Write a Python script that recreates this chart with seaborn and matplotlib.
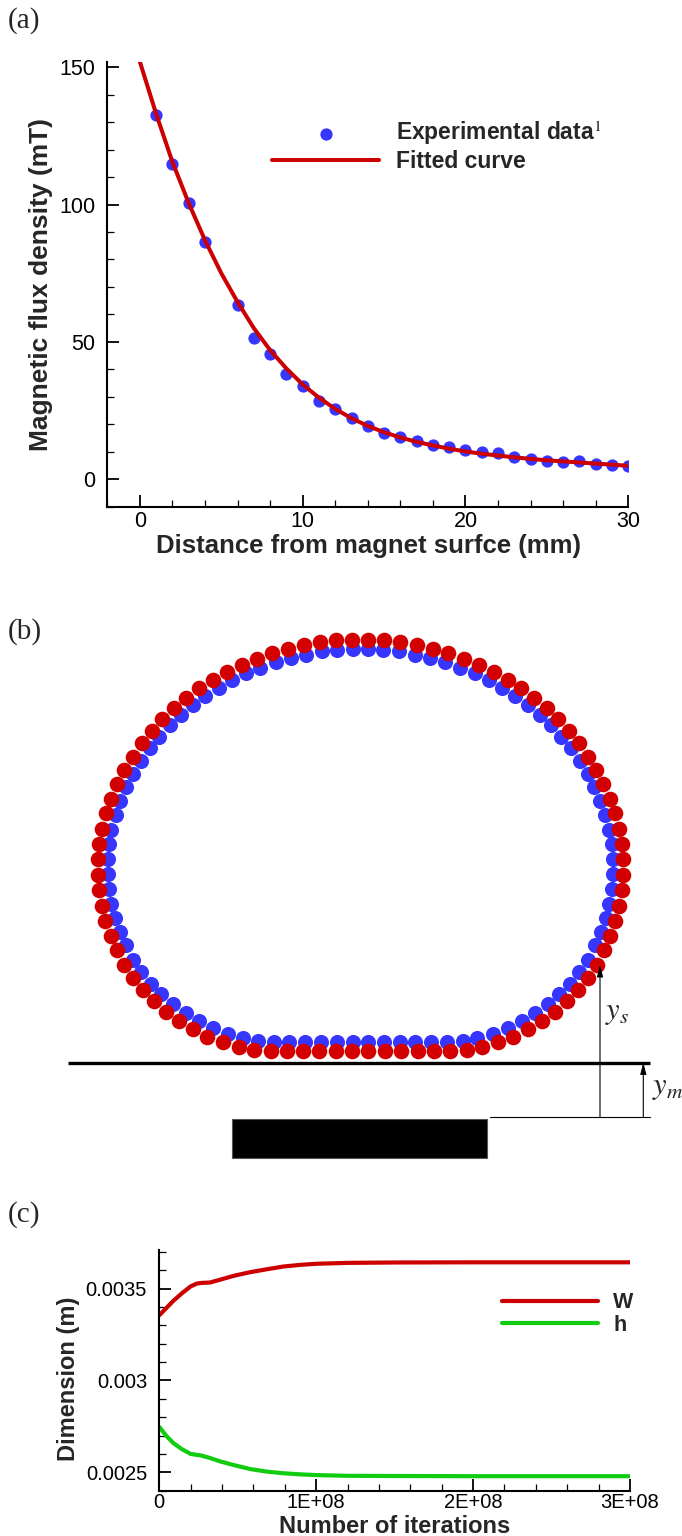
import matplotlib
matplotlib.use('Agg')
import matplotlib.pyplot as plt
import seaborn as sns
from matplotlib.ticker import MultipleLocator, FixedLocator, FixedFormatter
from matplotlib.patches import Rectangle

# ---------------- Panel (a) data ----------------
exp_distance_mm = [1, 2, 3, 4, 6, 7, 8, 9, 10, 11, 12, 13, 14, 15, 16, 17, 18, 19, 20,
                   21, 22, 23, 24, 25, 26, 27, 28, 29, 30]
exp_flux_mT = [132.7, 114.6, 100.4, 86.5, 63.4, 51.5, 45.5, 38.2, 33.8, 28.6, 25.6, 22.4,
               19.3, 17.0, 15.5, 14.0, 12.5, 11.6, 10.5, 10.0, 9.4, 8.1, 7.4, 6.8, 6.1,
               6.5, 5.5, 5.2, 4.7]
fit_distance_mm = [0, 1, 2, 3, 4, 5, 6, 7, 8, 9, 10, 11, 12, 13, 14, 15, 16, 17, 18, 19,
                   20, 21, 22, 23, 24, 25, 26, 27, 28, 29, 30]
fit_flux_mT = [152, 133, 115.5, 100.5, 87, 75, 64.5, 55, 47, 40.3, 34.5, 29.7, 25.6, 22.2,
               19.4, 17.1, 15.2, 13.6, 12.3, 11.1, 10.1, 9.3, 8.6, 8.0, 7.4, 6.9, 6.5,
               6.1, 5.7, 5.3, 4.9]
a_xticks = [0, 10, 20, 30]
a_yticks = [0, 50, 100, 150]

# ---------------- Panel (b) dots (schematic, pixel units) ----------------
red_x = [368.3, 384.3, 400.3, 416.8, 432.8, 448.3, 464.0, 479.0, 493.8, 507.6, 521.3, 534.3,
         546.8, 558.3, 569.0, 579.0, 588.0, 596.3, 603.3, 609.5, 614.5, 618.8, 621.6, 622.5,
         622.8, 621.5, 618.8, 615.3, 610.1, 603.8, 596.5, 587.7, 577.8, 567.0, 555.0, 541.8,
         528.1, 513.3, 498.1, 481.8, 466.5, 450.1, 434.0, 417.5, 401.3, 385.0, 368.3,
         352.3, 335.6, 319.3, 303.1, 286.6, 270.5, 254.1, 238.8, 222.5, 207.3, 192.5, 178.8,
         165.6, 153.6, 142.8, 132.9, 124.1, 116.8, 110.5, 105.3, 101.8, 99.1, 97.8, 98.1,
         99.0, 101.8, 106.1, 111.1, 117.3, 124.3, 132.6, 141.6, 151.6, 162.3, 173.8, 186.3,
         199.3, 213.0, 226.8, 241.6, 256.6, 272.3, 287.8, 303.8, 320.3, 336.3, 352.3]
red_y = [639.5, 640.0, 641.5, 645.0, 649.0, 653.0, 659.0, 664.7, 672.2, 680.0, 688.3, 698.0,
         708.3, 719.3, 731.0, 743.3, 756.5, 770.0, 784.0, 798.5, 813.3, 828.5, 844.0, 859.3,
         875.0, 890.3, 906.0, 921.0, 936.0, 950.0, 964.7, 977.7, 990.0, 1001.2, 1011.7, 1021.0,
         1029.3, 1037.0, 1042.3, 1046.7, 1050.0, 1051.0, 1051.0, 1051.0, 1051.0, 1051.0, 1051.0,
         1051.0, 1051.0, 1051.0, 1051.0, 1051.0, 1051.0, 1050.0, 1046.7, 1042.3, 1037.0, 1029.3,
         1021.0, 1011.7, 1001.2, 990.0, 977.7, 964.7, 950.0, 936.0, 921.0, 906.0, 890.3, 875.0,
         859.3, 844.0, 828.5, 813.3, 798.5, 784.0, 770.0, 756.5, 743.3, 731.0, 719.3, 708.3,
         698.0, 688.3, 680.0, 672.2, 664.7, 659.0, 653.0, 649.0, 645.0, 641.5, 640.0, 639.5]
blue_x = [368.0, 383.4, 398.8, 414.7, 430.1, 445.0, 460.2, 474.6, 488.9, 502.1, 515.3, 527.9,
          539.9, 551.0, 561.3, 570.9, 579.6, 587.6, 594.3, 600.3, 605.1, 609.2, 611.9, 612.8,
          613.1, 611.8, 609.2, 605.9, 600.9, 594.8, 587.8, 579.3, 569.8, 559.4, 547.8, 535.1,
          521.9, 507.6, 493.0, 477.3, 462.6, 446.8, 431.3, 415.4, 399.8, 384.1, 368.0,
          352.6, 336.5, 320.8, 305.2, 289.3, 273.8, 258.0, 243.3, 227.6, 213.0, 198.7, 185.5,
          172.8, 161.2, 150.8, 141.3, 132.8, 125.8, 119.7, 114.7, 111.4, 108.8, 107.5, 107.8,
          108.7, 111.4, 115.5, 120.3, 126.3, 133.0, 141.0, 149.7, 159.3, 169.6, 180.7, 192.7,
          205.3, 218.5, 231.7, 246.0, 260.4, 275.6, 290.5, 305.9, 321.8, 337.2, 352.6]
blue_y = [649.2, 649.7, 651.1, 654.5, 658.3, 662.1, 667.8, 673.3, 680.4, 687.9, 695.8, 705.0,
          714.9, 725.4, 736.5, 748.3, 760.8, 773.7, 787.1, 800.9, 815.0, 829.5, 844.3, 858.9,
          873.9, 888.5, 903.5, 917.8, 932.1, 945.4, 959.5, 971.9, 983.6, 994.3, 1004.3, 1013.2,
          1021.1, 1028.4, 1033.5, 1037.7, 1040.8, 1041.8, 1041.8, 1041.8, 1041.8, 1041.8, 1041.8,
          1041.8, 1041.8, 1041.8, 1041.8, 1041.8, 1041.8, 1040.8, 1037.7, 1033.5, 1028.4, 1021.1,
          1013.2, 1004.3, 994.3, 983.6, 971.9, 959.5, 945.4, 932.1, 917.8, 903.5, 888.5, 873.9,
          858.9, 844.3, 829.5, 815.0, 800.9, 787.1, 773.7, 760.8, 748.3, 736.5, 725.4, 714.9,
          705.0, 695.8, 687.9, 680.4, 673.3, 667.8, 662.1, 658.3, 654.5, 651.1, 649.7, 649.2]

# ---------------- Panel (c) data ----------------
iterations = [0, 0.47e7, 0.89e7, 1.42e7, 2.0e7, 2.38e7, 2.7e7, 3.23e7, 3.86e7, 4.72e7,
              5.78e7, 6.84e7, 7.9e7, 8.97e7, 1.0e8, 1.2e8, 1.5e8, 2.0e8, 2.5e8, 3.0e8]
width_W = [0.003355, 0.003396, 0.003433, 0.003473, 0.003512, 0.003527, 0.003531, 0.003533,
           0.003548, 0.003569, 0.003589, 0.003605, 0.003620, 0.003629, 0.003635, 0.003640,
           0.003642, 0.003643, 0.003643, 0.003643]
height_h = [0.002747, 0.002696, 0.002660, 0.002627, 0.002600, 0.002595, 0.002591, 0.002578,
            0.002560, 0.002540, 0.002518, 0.002504, 0.002495, 0.002489, 0.002485, 0.002481,
            0.002480, 0.002479, 0.002479, 0.002479]
c_xticks = [0, 1e8, 2e8, 3e8]
c_xticklabels = ['0', '1E+08', '2E+08', '3E+08']
c_yticks = [0.0025, 0.003, 0.0035]
c_yticklabels = ['0.0025', '0.003', '0.0035']

# ---------------- style ----------------
RED = '#CC0000'
RED_B = '#D20000'
BLUE = '#3636FF'
GREEN = '#12CC12'

sns.set_style('white')
plt.rcParams['font.family'] = ['Liberation Sans', 'DejaVu Sans']
plt.rcParams['mathtext.fontset'] = 'stix'

W_PX, H_PX = 682, 1536
fig = plt.figure(figsize=(W_PX / 100, H_PX / 100), dpi=100)


def px_axes(left, top, right, bottom):
    return fig.add_axes([left / W_PX, 1 - bottom / H_PX,
                         (right - left) / W_PX, (bottom - top) / H_PX])


def style_axes(ax, fs):
    for s in ['top', 'right']:
        ax.spines[s].set_visible(False)
    for s in ['left', 'bottom']:
        ax.spines[s].set_linewidth(1.5)
        ax.spines[s].set_color('black')
    ax.tick_params(which='both', direction='in', color='black', labelsize=fs,
                   labelcolor='black')
    ax.tick_params(which='major', length=8.6, width=1.3)
    ax.tick_params(which='minor', length=5, width=0.9)
    ax.tick_params(axis='y', which='both', left=True, right=False, pad=8.8)
    ax.tick_params(axis='x', which='both', bottom=True, top=False)


# ================= Panel (a) =================
axa = px_axes(107.3, 61.7, 628.3, 506.7)
sns.scatterplot(x=exp_distance_mm, y=exp_flux_mT, ax=axa, color=BLUE, s=78, linewidth=0,
                label='Experimental data$^{1}$', zorder=2)
sns.lineplot(x=fit_distance_mm, y=fit_flux_mT, ax=axa, color=RED, lw=2.9,
             label='Fitted curve', zorder=3, estimator=None, sort=False)
axa.set_xlim(-2, 30)
axa.set_ylim(-10, 152)
axa.xaxis.set_major_locator(FixedLocator(a_xticks))
axa.xaxis.set_minor_locator(MultipleLocator(2))
axa.yaxis.set_major_locator(FixedLocator(a_yticks))
axa.yaxis.set_minor_locator(MultipleLocator(10))
style_axes(axa, 15.5)
axa.tick_params(axis='x', pad=3.0)
axa.set_xlabel('Distance from magnet surfce (mm)', fontsize=18.5, fontweight='bold')
axa.set_ylabel('Magnetic flux density (mT)', fontsize=19, fontweight='bold')
axa.xaxis.set_label_coords(0.502, -0.088)
axa.xaxis.label.set_va('center')
axa.yaxis.set_label_coords(-0.127, 0.5)
axa.yaxis.label.set_va('center')
axa.legend(loc='center left', bbox_to_anchor=(0.316, 0.811), frameon=False,
           prop={'weight': 'bold', 'size': 16.5}, handlelength=4.69, handletextpad=0.71,
           labelspacing=0.1, borderpad=0, borderaxespad=0, scatterpoints=1)

# ================= Panel (b) =================
SURFACE_Y = 1062.5
SURFACE_X0, SURFACE_X1 = 68, 650
BASE_Y = 1117.3
BASE_X0 = 490
MAGNET = (232.3, 1118.7, 255.0, 39.3)  # left, top, width, height
YS_X, YS_TIP = 600, 965
YM_X = 643.3

axb = px_axes(0, 590, 682, 1175)
sns.scatterplot(x=blue_x, y=blue_y, ax=axb, color=BLUE, s=118, linewidth=0, zorder=2,
                legend=False)
sns.scatterplot(x=red_x, y=red_y, ax=axb, color=RED_B, s=126, linewidth=0, zorder=3,
                legend=False)
axb.plot([SURFACE_X0, SURFACE_X1], [SURFACE_Y, SURFACE_Y], color='black', lw=2.4,
         solid_capstyle='butt', zorder=4)
axb.plot([BASE_X0, SURFACE_X1], [BASE_Y, BASE_Y], color='black', lw=0.8, zorder=4)
axb.add_patch(Rectangle((MAGNET[0], MAGNET[1]), MAGNET[2], MAGNET[3], facecolor='black',
                        edgecolor='#555555', lw=0.8, zorder=4))
arrow_kw = dict(arrowstyle='-|>,head_length=0.7,head_width=0.18', color='black', lw=0.8,
                shrinkA=0, shrinkB=0, mutation_scale=10)
axb.annotate('', xy=(YS_X, YS_TIP), xytext=(YS_X, BASE_Y), arrowprops=arrow_kw, zorder=5)
axb.annotate('', xy=(YM_X, SURFACE_Y), xytext=(YM_X, BASE_Y), arrowprops=arrow_kw, zorder=5)
axb.text(605, 1019.4, '$y_s$', fontsize=22, ha='left', va='baseline')
axb.text(651.5, 1094.4, '$y_m$', fontsize=22, ha='left', va='baseline')
axb.set_xlim(0, W_PX)
axb.set_ylim(1175, 590)
axb.axis('off')

# ================= Panel (c) =================
axc = px_axes(159.3, 1250, 630, 1490.7)
sns.lineplot(x=iterations, y=width_W, ax=axc, color=RED, lw=3.0, label='W',
             estimator=None, sort=False)
sns.lineplot(x=iterations, y=height_h, ax=axc, color=GREEN, lw=3.0, label='h',
             estimator=None, sort=False)
axc.set_xlim(0, 3e8)
axc.set_ylim(0.0024, 0.00371)
axc.xaxis.set_major_locator(FixedLocator(c_xticks))
axc.xaxis.set_major_formatter(FixedFormatter(c_xticklabels))
axc.xaxis.set_minor_locator(MultipleLocator(2e7))
axc.yaxis.set_major_locator(FixedLocator(c_yticks))
axc.yaxis.set_major_formatter(FixedFormatter(c_yticklabels))
axc.yaxis.set_minor_locator(MultipleLocator(0.0001))
style_axes(axc, 14.5)
axc.tick_params(axis='x', pad=2.0)
axc.set_xlabel('Number of iterations', fontsize=17, fontweight='bold')
axc.set_ylabel('Dimension (m)', fontsize=17, fontweight='bold')
axc.xaxis.set_label_coords(0.5007, -0.1496)
axc.xaxis.label.set_va('center')
axc.yaxis.set_label_coords(-0.192, 0.464)
axc.yaxis.label.set_va('center')
axc.legend(loc='center left', bbox_to_anchor=(0.728, 0.734), frameon=False,
           prop={'weight': 'bold', 'size': 15.5}, handlelength=4.46, handletextpad=0.7,
           labelspacing=0.05, borderpad=0, borderaxespad=0)

# ================= panel tags =================
for tag, yc in [('(a)', 21), ('(b)', 632), ('(c)', 1215)]:
    fig.text(8 / W_PX, 1 - yc / H_PX, tag, family=['Liberation Serif', 'DejaVu Serif'],
             fontsize=21, ha='left', va='center')

fig.savefig('out.png', dpi=100)
